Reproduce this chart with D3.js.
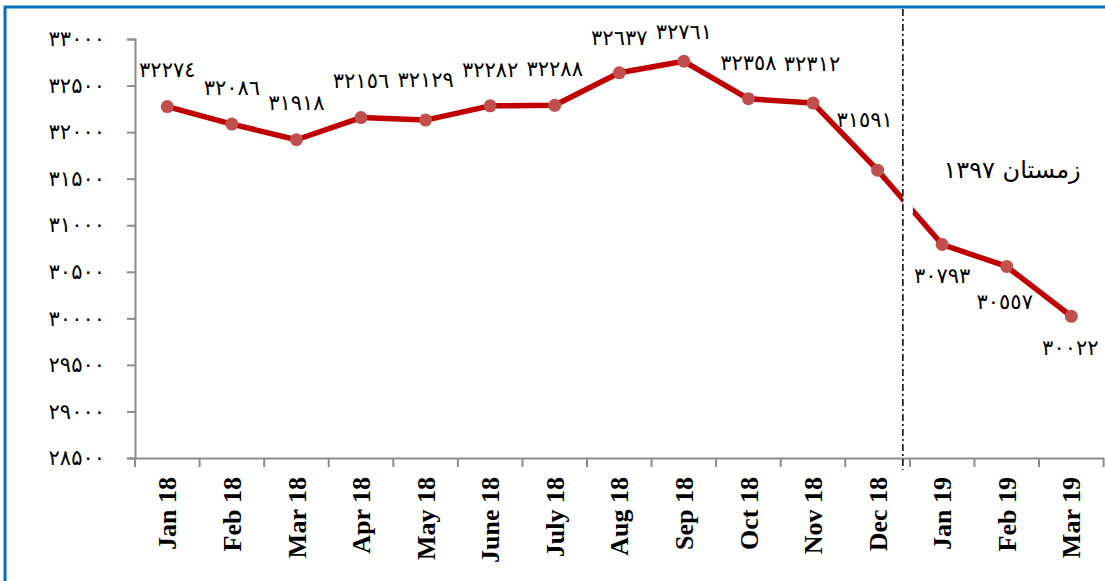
<!DOCTYPE html>
<html>
<head>
<meta charset="utf-8">
<script src="https://cdn.jsdelivr.net/npm/d3@7"></script>
<style>
  html, body { margin: 0; padding: 0; background: #fff; }
  svg { display: block; }
</style>
</head>
<body>
<svg id="chart" width="1105" height="581"></svg>
<script>
// chart data
const months = ['Jan 18', 'Feb 18', 'Mar 18', 'Apr 18', 'May 18', 'June 18', 'July 18', 'Aug 18',
  'Sep 18', 'Oct 18', 'Nov 18', 'Dec 18', 'Jan 19', 'Feb 19', 'Mar 19'];
const prices = [32274, 32086, 31918, 32156, 32129, 32282, 32288, 32637, 32761, 32358, 32312, 31591,
  30793, 30557, 30022];
const yTicks = [28500, 29000, 29500, 30000, 30500, 31000, 31500, 32000, 32500, 33000];
const winterLabel = 'زمستان ۱۳۹۷';

// label offsets from each point (dx, dy)
const labelOffsets = [[0, -37], [0, -36], [0, -37], [0, -37], [0, -40], [0, -36], [0, -36], [0, -35],
  [0, -29], [0, -36], [-1, -39], [-13, -50], [0, 32], [-2, 36], [-1, 32]];

const persian = s => String(s).replace(/\d/g, d => '۰۱۲۳۴۵۶۷۸۹'[d]);
const arabic = s => String(s).replace(/\d/g, d => '٠١٢٣٤٥٦٧٨٩'[d]);

const svg = d3.select('#chart');

// blue frame
svg.append('rect')
  .attr('x', 5).attr('y', 7)
  .attr('width', 1105).attr('height', 590)
  .attr('fill', 'none')
  .attr('stroke', '#0070c0')
  .attr('stroke-width', 3);

const x = d3.scaleBand().domain(months).range([135, 1103.6]);
const y = d3.scaleLinear().domain([28500, 33000]).range([458, 39]);

// y axis
const yAxis = svg.append('g')
  .attr('transform', 'translate(135,0)')
  .call(d3.axisLeft(y).tickValues(yTicks).tickSize(8).tickPadding(22).tickFormat(persian));
yAxis.select('.domain').attr('stroke', '#8c8c8c').attr('stroke-width', 2);
yAxis.selectAll('.tick line').attr('stroke', '#8c8c8c').attr('stroke-width', 2);
yAxis.selectAll('.tick text')
  .attr('fill', '#000')
  .style('font-family', '"DejaVu Sans", sans-serif')
  .style('font-size', '21px');

// x axis
const xAxis = svg.append('g')
  .attr('transform', 'translate(0,458)')
  .call(d3.axisBottom(x).tickSize(0).tickSizeOuter(0));
xAxis.select('.domain').attr('stroke', '#8c8c8c').attr('stroke-width', 2);
xAxis.selectAll('.tick text')
  .attr('fill', '#000')
  .attr('transform', 'rotate(-90)')
  .attr('text-anchor', 'end')
  .attr('dy', '0.35em')
  .attr('x', -19)
  .attr('y', 0)
  .style('font-family', '"Liberation Serif", "Times New Roman", serif')
  .style('font-weight', 'bold')
  .style('font-size', '26px');
// tick marks on band boundaries
xAxis.selectAll('.bound')
  .data(months.concat(['end']))
  .join('line')
  .attr('class', 'bound')
  .attr('x1', (d, i) => x.range()[0] + i * x.step())
  .attr('x2', (d, i) => x.range()[0] + i * x.step())
  .attr('y1', 0).attr('y2', 9)
  .attr('stroke', '#8c8c8c').attr('stroke-width', 2);

const cx = d => x(d) + x.bandwidth() / 2;

// line
const line = d3.line()
  .x((d, i) => cx(months[i]))
  .y(d => y(d));
svg.append('path')
  .datum(prices)
  .attr('d', line)
  .attr('fill', 'none')
  .attr('stroke', '#c00000')
  .attr('stroke-width', 5.5)
  .attr('stroke-linejoin', 'round');

// separator between 2018 and 2019
const sepX = x('Jan 19') - 7;
svg.append('line')
  .attr('x1', sepX + 5).attr('x2', sepX + 5)
  .attr('y1', 196).attr('y2', 214)
  .attr('stroke', '#fff').attr('stroke-width', 10);
svg.append('line')
  .attr('x1', sepX).attr('x2', sepX)
  .attr('y1', 9).attr('y2', 470)
  .attr('stroke', '#000')
  .attr('stroke-width', 1.5)
  .attr('stroke-dasharray', '7,3,2,3');

// markers
svg.append('g').selectAll('circle')
  .data(prices)
  .join('circle')
  .attr('cx', (d, i) => cx(months[i]))
  .attr('cy', d => y(d))
  .attr('r', 6.5)
  .attr('fill', '#c0504d');

// data labels
svg.append('g').selectAll('text')
  .data(prices)
  .join('text')
  .attr('x', (d, i) => cx(months[i]) + labelOffsets[i][0])
  .attr('y', (d, i) => y(d) + labelOffsets[i][1])
  .attr('text-anchor', 'middle')
  .attr('dominant-baseline', 'central')
  .style('font-family', '"DejaVu Sans", sans-serif')
  .style('font-size', '21px')
  .text(d => arabic(d));

svg.append('text')
  .attr('x', 1012)
  .attr('y', 170)
  .attr('text-anchor', 'middle')
  .attr('dominant-baseline', 'central')
  .style('font-family', '"DejaVu Sans", sans-serif')
  .style('font-size', '24px')
  .text(winterLabel);
</script>
</body>
</html>
